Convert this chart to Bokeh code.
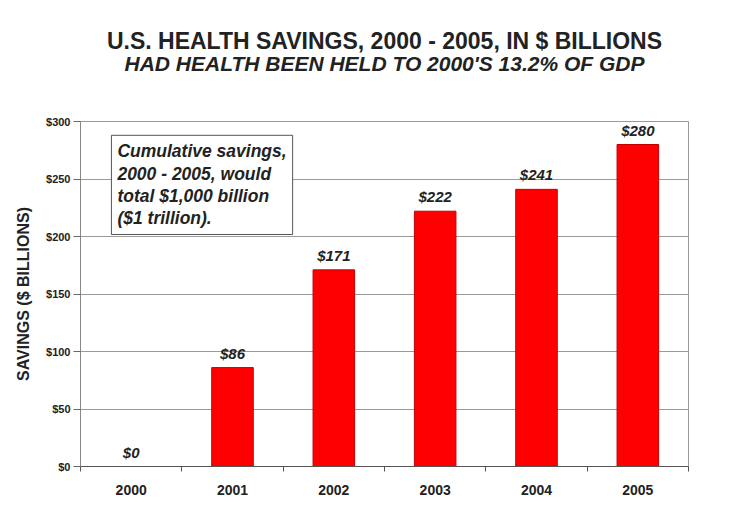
from bokeh.plotting import figure
from bokeh.models import (Range1d, FixedTicker, PrintfTickFormatter,
                          Label, Title, ColumnDataSource, LabelSet)
from bokeh.core.properties import value
from bokeh.embed import file_html
from bokeh.resources import INLINE

years = ["2000", "2001", "2002", "2003", "2004", "2005"]
savings = [0, 86, 171, 222, 241, 280]
value_labels = ["$0", "$86", "$171", "$222", "$241", "$280"]
y_ticks = [0, 50, 100, 150, 200, 250, 300]

title_text = "U.S. HEALTH SAVINGS, 2000 - 2005, IN $ BILLIONS"
subtitle_text = "HAD HEALTH BEEN HELD TO 2000'S 13.2% OF GDP"
note_text = "Cumulative savings,\n2000 - 2005, would\ntotal $1,000 billion\n($1 trillion)."
y_label = "SAVINGS ($ BILLIONS)"

FONT = "Liberation Sans"
DARK = "#222222"

xpos = [i + 0.5 for i in range(len(years))]
src = ColumnDataSource(dict(x=xpos, top=savings, lab=value_labels))

p = figure(width=724, height=500, output_backend="svg", toolbar_location=None,
           x_range=Range1d(0, len(years)), y_range=Range1d(0, 300),
           min_border_left=80, min_border_right=36, min_border_top=121, min_border_bottom=34)
p.title.visible = False
p.background_fill_color = "white"
p.border_fill_color = "white"
p.outline_line_color = "#9a9a9a"
p.outline_line_width = 1

p.vbar(x="x", top="top", width=0.41, source=src, fill_color="#ff0000", line_color="#c00000", line_width=1)

p.add_layout(LabelSet(x="x", y="top", text="lab", source=src, text_align="center",
                      text_baseline="bottom", y_offset=6, text_font=value(FONT), text_font_size="15px",
                      text_font_style="bold italic", text_color=DARK))

# axes
p.xaxis.ticker = FixedTicker(ticks=xpos, minor_ticks=list(range(len(years) + 1)))
p.xaxis.major_label_overrides = {x: y for x, y in zip(xpos, years)}
p.xaxis.major_tick_line_color = None
p.xaxis.major_tick_out = 5
p.xaxis.minor_tick_line_color = "#555555"
p.xaxis.minor_tick_out = 5
p.xaxis.minor_tick_in = 0
p.xaxis.axis_line_color = "#555555"
p.xaxis.major_label_standoff = 13
p.xaxis.major_label_text_font = FONT
p.xaxis.major_label_text_font_size = "14px"
p.xaxis.major_label_text_font_style = "bold"
p.xaxis.major_label_text_color = DARK

p.yaxis.ticker = FixedTicker(ticks=y_ticks)
p.yaxis.formatter = PrintfTickFormatter(format="$%d")
p.yaxis.major_tick_out = 7
p.yaxis.major_tick_in = 0
p.yaxis.minor_tick_line_color = None
p.yaxis.major_tick_line_color = "#666666"
p.yaxis.axis_line_color = "#888888"
p.yaxis.major_label_standoff = 3
p.yaxis.major_label_text_font = FONT
p.yaxis.major_label_text_font_size = "11px"
p.yaxis.major_label_text_font_style = "bold"
p.yaxis.major_label_text_color = DARK
p.yaxis.axis_label = y_label
p.yaxis.axis_label_standoff = 11
p.yaxis.axis_label_text_font = FONT
p.yaxis.axis_label_text_font_size = "16px"
p.yaxis.axis_label_text_font_style = "bold"
p.yaxis.axis_label_text_color = DARK

p.xgrid.grid_line_color = None
p.ygrid.grid_line_color = "#9a9a9a"
p.ygrid.grid_line_width = 1

# note box
p.add_layout(Label(x=0.305, y=288, text=note_text, text_align="left", text_baseline="top",
                   text_font=FONT, text_font_size="17.5px", text_font_style="bold italic",
                   text_color=DARK, text_line_height=1.12,
                   background_fill_color="white", border_line_color="#555555",
                   border_line_width=1, padding=6))

# titles
p.add_layout(Title(text=subtitle_text, align="center", text_font=FONT, text_font_size="21px",
                   text_font_style="bold italic", text_color=DARK, standoff=93), "above")
p.add_layout(Title(text=title_text, align="center", text_font=FONT, text_font_size="23px",
                   text_font_style="bold", text_color=DARK, standoff=-101), "above")

open("out.html", "w").write(file_html(p, INLINE))
